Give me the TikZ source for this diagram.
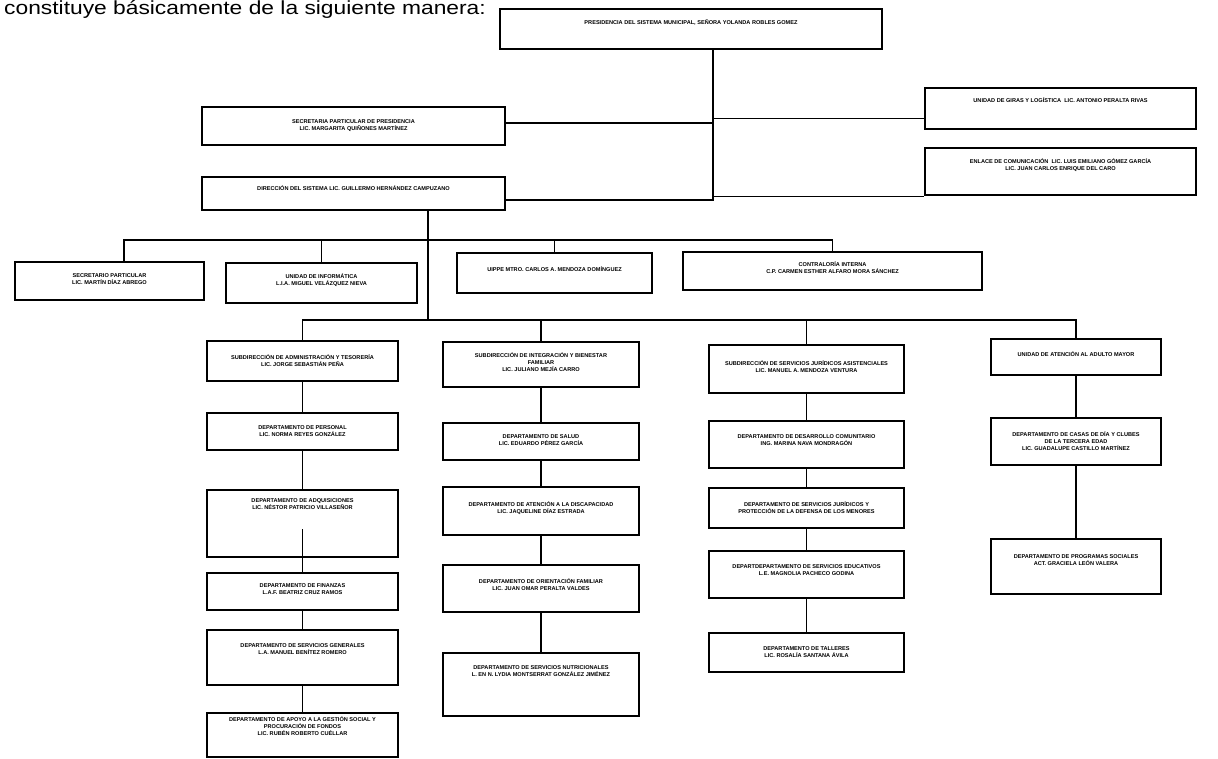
\documentclass[tikz,border=0pt]{standalone}
\usepackage{fontspec}
\setmainfont{Liberation Sans}
\usepackage{graphicx}
\usepackage{tikz}
\tikzset{>=latex}
\tikzset{caja/.style={draw, line width=2.6pt, inner sep=1pt, align=center,
    font=\fontsize{5.6}{7}\selectfont\bfseries},
  linea/.style={line width=1.2pt}}

\begin{document}
\begin{tikzpicture}[x=1pt,y=-1pt]
    \useasboundingbox[fill=white] (0,0) rectangle (1218,759);
    \node[anchor=base west, inner sep=0pt, font=\fontsize{19}{20}\selectfont] (intro) at (4,15)
        {\scalebox{1.2}[1]{constituye básicamente de la siguiente manera:}};

    % presidencia y staff
    \node[caja, minimum width=382pt, minimum height=40pt, text depth=13pt] (pres) at (691,29)
        {PRESIDENCIA DEL SISTEMA MUNICIPAL, SEÑORA YOLANDA ROBLES GOMEZ};
    \node[caja, minimum width=271pt, minimum height=41pt, text depth=16pt] (giras) at (1060.5,108.5)
        {UNIDAD DE GIRAS Y LOGÍSTICA\ \ LIC. ANTONIO PERALTA RIVAS};
    \node[caja, minimum width=271pt, minimum height=47pt, text depth=14pt] (enlace) at (1060.5,171.5)
        {ENLACE DE COMUNICACIÓN\ \ LIC. LUIS EMILIANO GÓMEZ GARCÍA\\LIC. JUAN CARLOS ENRIQUE DEL CARO};
    \node[caja, minimum width=303pt, minimum height=38pt] (secpart) at (353.5,126)
        {SECRETARIA PARTICULAR DE PRESIDENCIA\\LIC. MARGARITA QUIÑONES MARTÍNEZ};
    \node[caja, minimum width=303pt, minimum height=33pt, text depth=10pt] (dir) at (353.5,193.5)
        {DIRECCIÓN DEL SISTEMA LIC. GUILLERMO HERNÁNDEZ CAMPUZANO};

    \coordinate (presB) at ([xshift=22pt]pres.south);
    \draw[linea] (presB) -- ++(0,149);
    \draw[linea] ([yshift=-10pt]giras.west) -| (presB);
    \draw[linea] (enlace.south west) -| (presB);
    \draw[linea] ([yshift=3pt]secpart.east) -| (presB);
    \draw[linea] ([yshift=-6.5pt]dir.east) -| (presB);

    % primer nivel
    \node[caja, minimum width=189pt, minimum height=38pt, text depth=4pt] (secret) at (109.5,281)
        {SECRETARIO PARTICULAR\\LIC. MARTÍN DÍAZ ABREGO};
    \node[caja, minimum width=191pt, minimum height=40pt, text depth=6pt] (info) at (321.5,283)
        {UNIDAD DE INFORMÁTICA\\L.I.A. MIGUEL VELÁZQUEZ NIEVA};
    \node[caja, minimum width=195pt, minimum height=40pt, text depth=7pt] (uippe) at (554.5,273)
        {UIPPE MTRO. CARLOS A. MENDOZA DOMÍNGUEZ};
    \node[caja, minimum width=299pt, minimum height=38pt, text depth=7pt] (contra) at (832.5,271)
        {CONTRALORÍA INTERNA\\C.P. CARMEN ESTHER ALFARO MORA SÁNCHEZ};

    \coordinate (dirB) at ([xshift=74.5pt]dir.south);
    \coordinate (ramal) at (428,240);
    \coordinate (ramalB) at (428,320);
    \draw[linea] (dirB) -- (ramalB);
    \draw[linea] ([xshift=14.5pt]secret.north) |- (ramal);
    \draw[linea] (info.north) |- (ramal);
    \draw[linea] (uippe.north) |- (ramal);
    \draw[linea] (contra.north) |- (ramal);

    % subdireccion de administracion
    \node[caja, minimum width=191pt, minimum height=40pt] (subadm) at (302.5,361)
        {SUBDIRECCIÓN DE ADMINISTRACIÓN Y TESORERÍA\\LIC. JORGE SEBASTIÁN PEÑA};
    \node[caja, minimum width=191pt, minimum height=37pt] (personal) at (302.5,431.5)
        {DEPARTAMENTO DE PERSONAL\\LIC. NORMA REYES GONZÁLEZ};
    \node[caja, minimum width=191pt, minimum height=67pt, text depth=39pt] (adq) at (302.5,523.5)
        {DEPARTAMENTO DE ADQUISICIONES\\LIC. NÉSTOR PATRICIO VILLASEÑOR};
    \node[caja, minimum width=191pt, minimum height=37pt, text depth=4pt] (fin) at (302.5,591.5)
        {DEPARTAMENTO DE FINANZAS\\L.A.F. BEATRIZ CRUZ RAMOS};
    \node[caja, minimum width=191pt, minimum height=55pt, text depth=17pt] (servgen) at (302.5,657.5)
        {DEPARTAMENTO DE SERVICIOS GENERALES\\L.A. MANUEL BENÍTEZ ROMERO};
    \node[caja, minimum width=191pt, minimum height=44pt, text depth=17pt] (apoyo) at (302.5,735)
        {DEPARTAMENTO DE APOYO A LA GESTIÓN SOCIAL Y\\PROCURACIÓN DE FONDOS\\LIC. RUBÉN ROBERTO CUÉLLAR};

    % subdireccion de integracion
    \node[caja, minimum width=196pt, minimum height=45pt, text depth=4pt] (subint) at (541,364.5)
        {SUBDIRECCIÓN DE INTEGRACIÓN Y BIENESTAR\\FAMILIAR\\LIC. JULIANO MEJÍA CARRO};
    \node[caja, minimum width=196pt, minimum height=37pt, text depth=3pt] (salud) at (541,441.5)
        {DEPARTAMENTO DE SALUD\\LIC. EDUARDO PÉREZ GARCÍA};
    \node[caja, minimum width=196pt, minimum height=48pt, text depth=7pt] (disc) at (541,511)
        {DEPARTAMENTO DE ATENCIÓN A LA DISCAPACIDAD\\LIC. JAQUELINE DÍAZ ESTRADA};
    \node[caja, minimum width=196pt, minimum height=47pt, text depth=8pt] (orient) at (541,588.5)
        {DEPARTAMENTO DE ORIENTACIÓN FAMILIAR\\LIC. JUAN OMAR PERALTA VALDES};
    \node[caja, minimum width=196pt, minimum height=63pt, text depth=26pt] (nutri) at (541,684.5)
        {DEPARTAMENTO DE SERVICIOS NUTRICIONALES\\L. EN N. LYDIA MONTSERRAT GONZÁLEZ JIMÉNEZ};

    % subdireccion de servicios juridicos
    \node[caja, minimum width=195pt, minimum height=48pt, text depth=4pt] (subjur) at (806.5,369)
        {SUBDIRECCIÓN DE SERVICIOS JURÍDICOS ASISTENCIALES\\LIC. MANUEL A. MENDOZA VENTURA};
    \node[caja, minimum width=195pt, minimum height=47pt, text depth=9pt] (desarr) at (806.5,444.5)
        {DEPARTAMENTO DE DESARROLLO COMUNITARIO\\ING. MARINA NAVA MONDRAGÓN};
    \node[caja, minimum width=195pt, minimum height=40pt] (protec) at (806.5,508)
        {DEPARTAMENTO DE SERVICIOS JURÍDICOS Y\\PROTECCIÓN DE LA DEFENSA DE LOS MENORES};
    \node[caja, minimum width=195pt, minimum height=47pt, text depth=8pt] (educ) at (806.5,574.5)
        {DEPARTDEPARTAMENTO DE SERVICIOS EDUCATIVOS\\L.E. MAGNOLIA PACHECO GODINA};
    \node[caja, minimum width=195pt, minimum height=39pt] (talleres) at (806.5,652.5)
        {DEPARTAMENTO DE TALLERES\\LIC. ROSALÍA SANTANA ÁVILA};

    % adulto mayor
    \node[caja, minimum width=170pt, minimum height=36pt, text depth=5pt] (adulto) at (1076,357)
        {UNIDAD DE ATENCIÓN AL ADULTO MAYOR};
    \node[caja, minimum width=170pt, minimum height=47pt] (casas) at (1076,441.5)
        {DEPARTAMENTO DE CASAS DE DÍA Y CLUBES\\DE LA TERCERA EDAD\\LIC. GUADALUPE CASTILLO MARTÍNEZ};
    \node[caja, minimum width=170pt, minimum height=55pt, text depth=13pt] (progsoc) at (1076,566.5)
        {DEPARTAMENTO DE PROGRAMAS SOCIALES\\ACT. GRACIELA LEÓN VALERA};

    \draw[linea] (subadm.north) |- (ramalB);
    \draw[linea] (subint.north) |- (ramalB);
    \draw[linea] (subjur.north) |- (ramalB);
    \draw[linea] (adulto.north) |- (ramalB);

    \draw[linea] (subadm) -- (personal);
    \draw[linea] (personal) -- (adq);
    \draw[linea] (fin.north) -- ([yshift=-5pt]adq.center);
    \draw[linea] (fin) -- (servgen);
    \draw[linea] (servgen) -- (apoyo);
    \draw[linea] (subint) -- (salud);
    \draw[linea] (salud) -- (disc);
    \draw[linea] (disc) -- (orient);
    \draw[linea] (orient) -- (nutri);
    \draw[linea] (subjur) -- (desarr);
    \draw[linea] (desarr) -- (protec);
    \draw[linea] (protec) -- (educ);
    \draw[linea] (educ) -- (talleres);
    \draw[linea] (adulto) -- (casas);
    \draw[linea] (casas) -- (progsoc);
\end{tikzpicture}
\end{document}
